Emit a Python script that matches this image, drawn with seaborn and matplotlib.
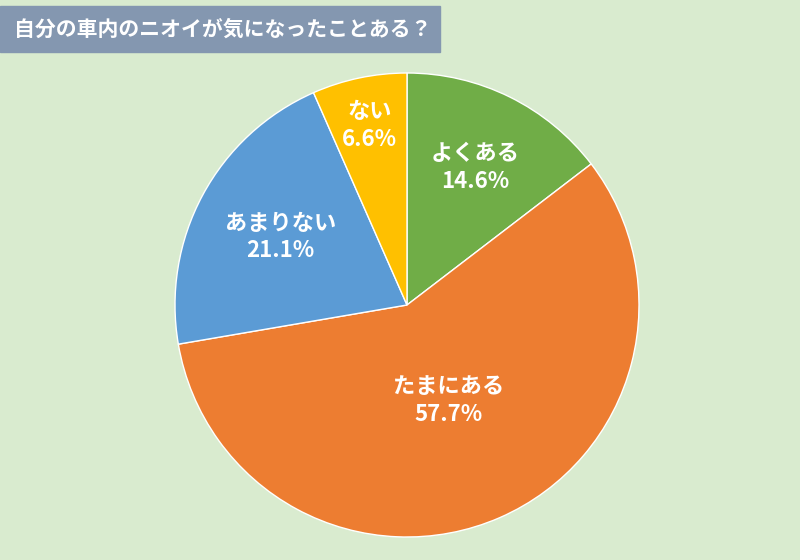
import numpy as np
import seaborn as sns
import matplotlib.pyplot as plt
from matplotlib.patches import Rectangle

labels = ["よくある", "たまにある", "あまりない", "ない"]
shares = [14.6, 57.7, 21.1, 6.6]
colors = ["#70ad47", "#ed7d31", "#5b9bd5", "#ffc000"]
label_dist = [0.66, 0.45, 0.62, 0.79]
title = "自分の車内のニオイが気になったことある？"

sns.set_style("white")
plt.rcParams['font.family'] = ['Noto Sans CJK JP', 'DejaVu Sans']

bg = "#d9ebcf"
fig = plt.figure(figsize=(8, 5.6), dpi=100, facecolor=bg)

# title banner
fig.patches.append(Rectangle((0, 1 - 52 / 560), 440 / 800, 46 / 560,
                             transform=fig.transFigure, color="#8497b0", zorder=0))
fig.text(14 / 800, 1 - 29 / 560, title, color="white", fontsize=15,
         fontweight="bold", va="center", ha="left")

ax = fig.add_axes([175 / 800, 23 / 560, 464 / 800, 464 / 560])
ax.set_facecolor(bg)
wedges, _ = ax.pie(shares, colors=sns.color_palette(colors), startangle=90,
                   counterclock=False,
                   wedgeprops=dict(edgecolor="white", linewidth=1))
ax.set_xlim(-1, 1)
ax.set_ylim(-1, 1)
ax.set_aspect("equal")
ax.axis("off")

# labels inside slices
for w, lab, val, d in zip(wedges, labels, shares, label_dist):
    ang = np.deg2rad((w.theta1 + w.theta2) / 2)
    x, y = d * np.cos(ang), d * np.sin(ang)
    ax.text(x, y, f"{lab}\n{val}%", ha="center", va="center", color="white",
            fontsize=16, fontweight="bold", linespacing=1.25)

fig.savefig("out.png", facecolor=bg)
